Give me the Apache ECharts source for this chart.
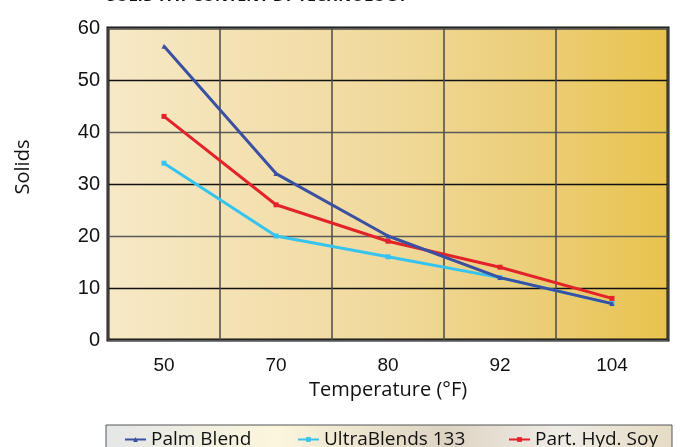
<!DOCTYPE html>
<html>
<head>
<meta charset="utf-8">
<script src="https://cdn.jsdelivr.net/npm/echarts@6/dist/echarts.min.js"></script>
<style>
html,body{margin:0;padding:0;background:#fff;}
#c{width:682px;height:447px;}
</style>
</head>
<body>
<div id="c"></div>
<script>
const categories = ['50', '70', '80', '92', '104'];
const palmBlend = [56.5, 32, 20, 12, 7];
const ultraBlends = [34, 20, 16, 12, 7];
const partHydSoy = [43, 26, 19, 14, 8];
const yTicks = [0, 10, 20, 30, 40, 50, 60];
const seriesNames = ['Palm Blend', 'UltraBlends 133', 'Part. Hyd. Soy'];

const chart = echarts.init(document.getElementById('c'));
const sans = '"Open Sans", "Noto Sans", sans-serif';
const arial = '"Liberation Sans", Arial, sans-serif';

function legendAt(name, left) {
  return {
    data: [name], left: left, top: 430, itemWidth: 21, itemHeight: 6,
    itemGap: 0, padding: 0,
    textStyle: { fontFamily: sans, fontSize: 19, color: '#111' },
    selectedMode: false
  };
}

chart.setOption({
  animation: false,
  graphic: [
    { type: 'rect', shape: { x: 106, y: 425, width: 566, height: 30 }, z: -1,
      style: {
        fill: new echarts.graphic.LinearGradient(0, 0, 1, 0, [
          { offset: 0, color: '#e4e6e8' },
          { offset: 0.3, color: '#fbf6dc' },
          { offset: 0.6, color: '#ddd3c3' },
          { offset: 0.8, color: '#efece6' },
          { offset: 1, color: '#e6dcc4' }
        ]),
        stroke: '#555', lineWidth: 1
      } },
    { type: 'text', style: { text: 'SOLID FAT CONTENT BY TECHNOLOGY', x: 107, y: 4,
      verticalAlign: 'bottom', font: 'bold 16px ' + sans, fill: '#111' } },
    { type: 'text', rotation: Math.PI / 2, x: 23, y: 167,
      style: { text: 'Solids', align: 'center', verticalAlign: 'middle',
        font: '20px ' + sans, fill: '#111' } },
    { type: 'text', x: 388, y: 390,
      style: { text: 'Temperature (°F)', align: 'center', verticalAlign: 'middle',
        font: '20px ' + sans, fill: '#111' } }
  ],
  legend: [
    legendAt(seriesNames[0], 124),
    legendAt(seriesNames[1], 297),
    legendAt(seriesNames[2], 508)
  ],
  grid: {
    left: 108, right: 14, top: 28, bottom: 107, show: true,
    borderColor: '#111', borderWidth: 3,
    backgroundColor: new echarts.graphic.LinearGradient(0, 0, 1, 0, [
      { offset: 0, color: '#f7e9c7' },
      { offset: 0.5, color: '#f0d99c' },
      { offset: 0.8, color: '#ebcc72' },
      { offset: 1, color: '#e8c34c' }
    ])
  },
  xAxis: {
    type: 'category', data: categories, boundaryGap: true,
    axisLine: { show: false }, axisTick: { show: false },
    axisLabel: { fontFamily: arial, fontSize: 19, color: '#111', margin: 16 },
    splitLine: { show: true, lineStyle: { color: '#4a4a4a', width: 1.5 } }
  },
  yAxis: {
    type: 'value', min: yTicks[0], max: yTicks[yTicks.length - 1], interval: 10,
    axisLine: { show: false }, axisTick: { show: false },
    axisLabel: { fontFamily: arial, fontSize: 20, color: '#111', margin: 8 },
    splitLine: { show: true, lineStyle: { color: ['#5a5a5a', '#111'], width: 1.3 } }
  },
  series: [
    { name: seriesNames[1], type: 'line', data: ultraBlends, color: '#35c4ef',
      symbol: 'rect', symbolSize: 5, lineStyle: { width: 3 }, z: 2 },
    { name: seriesNames[2], type: 'line', data: partHydSoy, color: '#e2232a',
      symbol: 'rect', symbolSize: 5, lineStyle: { width: 3 }, z: 3 },
    { name: seriesNames[0], type: 'line', data: palmBlend, color: '#3a50a2',
      symbol: 'triangle', symbolSize: 5, lineStyle: { width: 3 }, z: 4 }
  ]
});
</script>
</body>
</html>
